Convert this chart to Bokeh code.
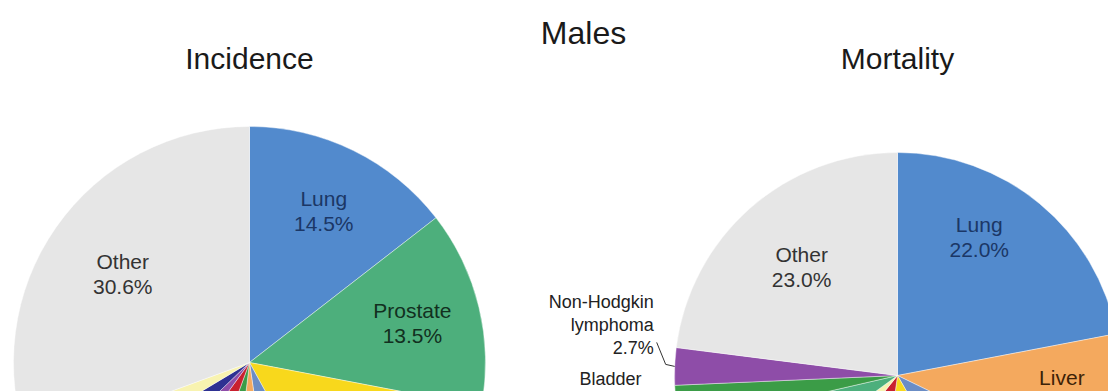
import numpy as np
from bokeh.plotting import figure
from bokeh.models import Range1d
from bokeh.core.properties import value
from bokeh.embed import file_html
from bokeh.resources import INLINE

W, H = 1108, 391

# Share of new cases (%) among males, clockwise from 12 o'clock
inc_sites = ["Lung", "Prostate", "Colorectum", "Stomach", "Liver", "Bladder",
             "Oesophagus", "Non-Hodgkin lymphoma", "Kidney", "Leukaemia", "Other"]
inc_pct = [14.5, 13.5, 14.0, 5.7, 4.2, 3.7, 4.4, 2.8, 3.6, 3.0, 30.6]

# Share of deaths (%) among males, clockwise from 12 o'clock
mort_sites = ["Lung", "Liver", "Stomach", "Colorectum", "Oesophagus", "Leukaemia",
              "Prostate", "Bladder", "Non-Hodgkin lymphoma", "Other"]
mort_pct = [22.0, 10.2, 9.5, 10.5, 8.6, 4.2, 6.4, 2.9, 2.7, 23.0]

site_colors = {
    "Lung": "#528ACD", "Prostate": "#4DAF7C", "Colorectum": "#F8D81C",
    "Stomach": "#6B8DC5", "Liver": "#F4A95E", "Bladder": "#3B9C47",
    "Oesophagus": "#C9202F", "Non-Hodgkin lymphoma": "#8E4DA8",
    "Kidney": "#2E3192", "Leukaemia": "#F8F3B0", "Other": "#E6E6E6",
}
label_colors = {"Lung": "#1B3766", "Prostate": "#12301F", "Other": "#333333",
                "Liver": "#3D2207"}
label_lines = {"Non-Hodgkin lymphoma": ["Non-Hodgkin", "lymphoma"]}

FONT = value("Liberation Sans")

# pie geometry in page pixels (y measured from the top)
pies = [
    dict(title="Incidence", sites=inc_sites, pct=inc_pct, cx=249, cy=362, r=236,
         labels={"Lung": ("in", 0.715, 0), "Prostate": ("in", 0.71, 0),
                 "Other": ("in", 0.655, 0)}),
    dict(title="Mortality", sites=mort_sites, pct=mort_pct, cx=897, cy=375, r=223,
         labels={"Lung": ("in", 0.72, -9), "Liver": ("in", 0.74, -2.5),
                 "Other": ("in", 0.65, 0),
                 "Non-Hodgkin lymphoma": ("out", -21, -64, True),
                 "Bladder": ("out", -35, -27, False)}),
]

p = figure(width=W, height=H, output_backend="svg", toolbar_location=None,
           x_range=Range1d(0, W), y_range=Range1d(0, H), min_border=0)
p.axis.visible = False
p.grid.visible = False
p.outline_line_color = None
p.background_fill_color = "white"
p.border_fill_color = "white"


def yu(y):
    return H - y


for pie in pies:
    pct = np.array(pie["pct"], dtype=float)
    ends = np.cumsum(pct) / 100.0 * 360.0
    starts = ends - pct / 100.0 * 360.0
    mids = (starts + ends) / 2.0
    cols = [site_colors[s] for s in pie["sites"]]
    cx, cy, r = pie["cx"], pie["cy"], pie["r"]
    p.wedge(x=cx, y=yu(cy), radius=r,
            start_angle=np.radians(90 - ends), end_angle=np.radians(90 - starts),
            direction="anticlock", fill_color=cols,
            line_color="white", line_width=0.6, line_alpha=0.7)

    p.text(x=[cx], y=[yu(58)], text=[pie["title"]], text_font=FONT,
           text_font_size="30px", text_color="#1a1a1a",
           text_align="center", text_baseline="middle")

    for site, share, mid in zip(pie["sites"], pct, mids):
        spec = pie["labels"].get(site)
        if spec is None:
            continue
        lines = label_lines.get(site, [site]) + [f"{share:.1f}%"]
        tcol = label_colors.get(site, "#222222")
        if spec[0] == "in":
            frac, dth = spec[1], spec[2]
            th = np.radians(mid + dth)
            lx = cx + frac * r * np.sin(th)
            ly = cy - frac * r * np.cos(th)
            lh = 25
            ys = [ly + (i - (len(lines) - 1) / 2) * lh for i in range(len(lines))]
            keep = [(t, y) for t, y in zip(lines, ys) if y < H - 10]
            p.text(x=[lx] * len(keep), y=[yu(y) for _, y in keep],
                   text=[t for t, _ in keep], text_font=FONT,
                   text_font_size="21px", text_color=tcol,
                   text_align="center", text_baseline="middle")
        else:
            dx, dy, leader = spec[1], spec[2], spec[3]
            th = np.radians(mid)
            ex = cx + r * np.sin(th)
            ey = cy - r * np.cos(th)
            lx, ly0 = ex + dx, ey + dy
            lh = 23
            ys = [ly0 + i * lh for i in range(len(lines))]
            keep = [(t, y) for t, y in zip(lines, ys) if y < H - 10]
            p.text(x=[lx] * len(keep), y=[yu(y) for _, y in keep],
                   text=[t for t, _ in keep], text_font=FONT,
                   text_font_size="18px", text_color=tcol,
                   text_align="right", text_baseline="middle")
            if leader:
                last = ys[-1]
                p.line(x=[lx + 3, ex - 9, ex], y=[yu(last - 6), yu(ey - 2), yu(ey)],
                       line_color="#333333", line_width=1)

p.text(x=[583], y=[yu(32)], text=["Males"], text_font=FONT,
       text_font_size="32px", text_color="#1a1a1a",
       text_align="center", text_baseline="middle")

open("out.html", "w").write(file_html(p, INLINE))
